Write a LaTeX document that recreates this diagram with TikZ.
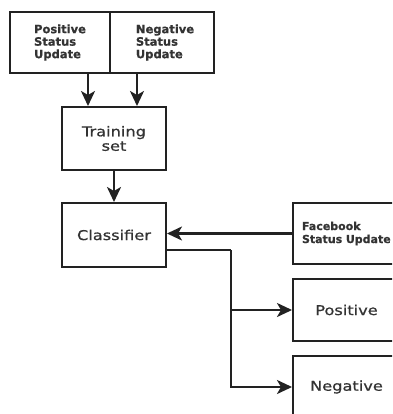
\documentclass[tikz,border=0pt]{standalone}
\usepackage{fontspec}
\setmainfont{DejaVu Sans}
\newfontfamily\widefont[FakeStretch=1.2, FakeBold=0.8]{DejaVu Sans}
\newfontfamily\srcfont[FakeBold=0.6]{DejaVu Sans Bold}
\usetikzlibrary{arrows.meta}
\definecolor{ink}{HTML}{222222}
\definecolor{txt}{HTML}{333333}
\tikzset{
  box/.style={draw=ink, line width=2pt, rectangle, inner sep=0pt, text=txt},
  srcbox/.style={box, font=\srcfont\fontsize{11.5}{12.5}\selectfont, align=left},
  stepbox/.style={box, font=\widefont\fontsize{13.5}{14.5}\selectfont, align=center},
  conn/.style={draw=ink, line width=2.2pt},
  arr/.style={conn, -{Stealth[length=15pt, width=14pt, inset=4pt]}}
}
\begin{document}
\begin{tikzpicture}[x=1pt, y=-1pt]
  \useasboundingbox (0,0) rectangle (392,414);
  \clip (0,0) rectangle (392,414);
  \fill[white] (0,0) rectangle (392,414);

  % input sources
  \node[srcbox, minimum width=100pt, minimum height=61pt] (pos) at (60,42.5)
    {Positive\\Status\\Update};
  \node[srcbox, minimum width=104pt, minimum height=61pt] (neg) at (162,42.5)
    {\hspace*{6pt}Negative\\\hspace*{6pt}Status\\\hspace*{6pt}Update};

  % training and classification
  \node[stepbox, minimum width=104pt, minimum height=63pt] (train) at (114,138.5)
    {Training\\set};
  \node[stepbox, minimum width=104pt, minimum height=64pt] (clf) at (114,235)
    {Classifier};

  % new status input
  \node[box, font=\srcfont\fontsize{11}{13}\selectfont, align=left,
        text width=100pt, inner xsep=9pt, minimum height=61pt] (fb) at (352,233.5)
    {Facebook\\Status Update};

  % outputs
  \node[stepbox, minimum width=107pt, minimum height=62pt] (posout) at (346.5,310)
    {Positive};
  \node[stepbox, minimum width=107pt, minimum height=62pt] (negout) at (346.5,387)
    {Negative};

  % connectors
  \draw[arr] ([xshift=28pt]pos.south) -- ([xshift=28pt]pos.south |- train.north);
  \draw[arr] ([xshift=-25pt]neg.south) -- ([xshift=-25pt]neg.south |- train.north);
  \draw[arr] (train.south) -- (clf.north);
  \draw[arr] (fb.west) -- (fb.west -| clf.east);
  \coordinate (split) at (231,250);
  \draw[conn] ([yshift=-15pt]clf.east) -- (split);
  \draw[arr] (split) |- (negout.west);
  \draw[arr] (split |- posout.west) -- (posout.west);
\end{tikzpicture}
\end{document}
